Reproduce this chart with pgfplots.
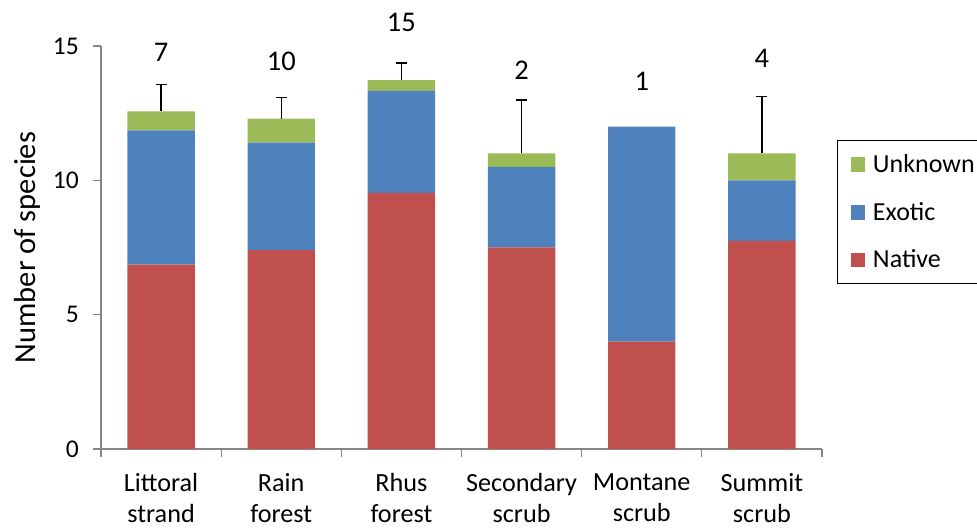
\documentclass[border=0pt]{standalone}
\usepackage{pgfplots}
\pgfplotsset{compat=1.18}
\usepackage{fontspec}
\setmainfont{Carlito}
\definecolor{nativered}{HTML}{C0504D}
\definecolor{exoticblue}{HTML}{4F81BD}
\definecolor{unkgreen}{HTML}{9BBB59}
\definecolor{axisgray}{HTML}{868686}
\begin{document}
\begin{tikzpicture}
\path[use as bounding box] (-101pt,-80pt) rectangle (876pt,449pt);
\begin{axis}[
  scale only axis, width=721pt, height=403pt,
  xmin=-0.5, xmax=5.5, ymin=0, ymax=15,
  clip=false,
  ybar stacked, bar width=67.4pt,
  axis x line*=bottom, axis y line*=left,
  axis line style={draw=axisgray, line width=1.1pt, -},
  tick align=outside,
  major tick length=8pt,
  tick style={draw=axisgray, line width=1.1pt},
  ytick={0,5,10,15},
  /pgf/number format/assume math mode=true,
  yticklabel style={font=\fontsize{25.5}{30}\selectfont, inner sep=0pt, xshift=-14pt},
  xtick={-0.5,0.5,1.5,2.5,3.5,4.5,5.5}, xticklabels={},
  extra x ticks={0,1,2,3,4,5},
  extra x tick labels={Littoral\\strand, Rain\\forest, Rhus\\forest, Secondary\\scrub, Montane\\scrub, Summit\\scrub},
  extra x tick style={major tick length=0pt, tick label style={font=\fontsize{26.2}{31}\selectfont, align=center, anchor=north, inner sep=0pt, yshift=-24pt}},
  ylabel={Number of species},
  every axis y label/.style={at={(axis description cs:-0.091,0.5)}, rotate=90, anchor=base, font=\fontsize{30.5}{34}\selectfont, inner sep=0pt},
  legend style={at={(rel axis cs:1.0212,0.7667)}, anchor=north west, draw=black, line width=1pt,
    inner xsep=13pt, inner ysep=12pt, row sep=23.7pt, column sep=7.7pt,
    font=\fontsize{26}{30}\selectfont,
    nodes={inner sep=0pt, text height=20pt, text depth=4pt}},
  legend cell align=left,
  reverse legend,
  legend image code/.code={\fill[#1] (0pt,-7.3pt) rectangle (14.5pt,7.3pt);},
]
\addplot[fill=nativered, draw=none] coordinates {(0,6.86) (1,7.4) (2,9.53) (3,7.5) (4,4) (5,7.75)};
\addlegendentry{Native}
\addplot[fill=exoticblue, draw=none] coordinates {(0,5.0) (1,4.0) (2,3.8) (3,3.0) (4,8.0) (5,2.25)};
\addlegendentry{Exotic}
\addplot[fill=unkgreen, draw=none] coordinates {(0,0.71) (1,0.9) (2,0.4) (3,0.5) (4,0) (5,1.0)};
\addlegendentry{Unknown\kern20pt}
\node[font=\fontsize{28.5}{30}\selectfont, inner sep=0pt] at (axis cs:0,14.77) {7};
\node[font=\fontsize{28.5}{30}\selectfont, inner sep=0pt] at (axis cs:1,14.42) {10};
\node[font=\fontsize{28.5}{30}\selectfont, inner sep=0pt] at (axis cs:2,15.86) {15};
\node[font=\fontsize{28.5}{30}\selectfont, inner sep=0pt] at (axis cs:3,14.1) {2};
\node[font=\fontsize{28.5}{30}\selectfont, inner sep=0pt] at (axis cs:4,13.7) {1};
\node[font=\fontsize{28.5}{30}\selectfont, inner sep=0pt] at (axis cs:5,14.55) {4};
\end{axis}
\begin{axis}[
  scale only axis, width=721pt, height=403pt,
  xmin=-0.5, xmax=5.5, ymin=0, ymax=15,
  hide axis, clip=false,
]
\addplot[draw=none, mark=none, forget plot,
  error bars/.cd, y dir=plus, y explicit,
  error bar style={draw=black, line width=1.2pt},
  error mark options={draw=black, rotate=90, mark size=5.5pt, line width=1.2pt}]
  coordinates {(0,12.57) +- (0,0.99) (1,12.3) +- (0,0.78) (2,13.73) +- (0,0.64) (3,11.0) +- (0,1.99) (5,11.0) +- (0,2.12)};
\end{axis}
\end{tikzpicture}
\end{document}
